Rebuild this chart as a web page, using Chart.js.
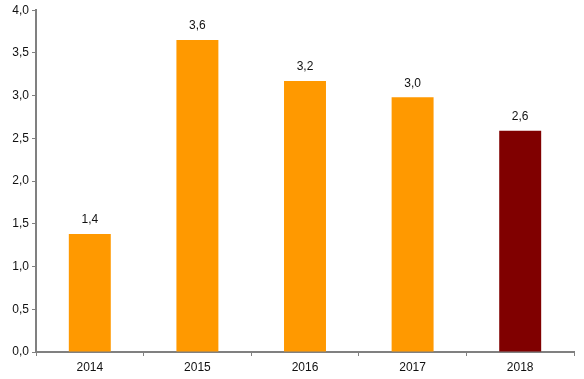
<!DOCTYPE html>
<html>
<head>
<meta charset="utf-8">
<script src="https://cdn.jsdelivr.net/npm/chart.js@4"></script>
<style>
  html, body { margin: 0; padding: 0; background: #fff; }
  #wrap { width: 584px; height: 379px; }
</style>
</head>
<body>
<div id="wrap"><canvas id="grafico"></canvas></div>
<script>
const anos = ["2014", "2015", "2016", "2017", "2018"]
const valores = [1.38, 3.65, 3.17, 2.98, 2.59]
const cores = ["#FF9900", "#FF9900", "#FF9900", "#FF9900", "#800000"]
const yMin = 0
const yMax = 4
const yStep = 0.5

const fmt = v => v.toFixed(1).replace(".", ",")

// rótulos em cima das barras
const rotulos = {
    id: "rotulos",
    afterDatasetsDraw(chart) {
        const ctx = chart.ctx
        const meta = chart.getDatasetMeta(0)
        ctx.save()
        ctx.font = "12px 'Liberation Sans', Arial, sans-serif"
        ctx.fillStyle = "#111"
        ctx.textAlign = "center"
        ctx.textBaseline = "bottom"
        meta.data.forEach((bar, i) => {
            ctx.fillText(fmt(valores[i]), bar.x, bar.y - 8)
        })
        ctx.restore()
    }
}

Chart.defaults.font.family = "'Liberation Sans', Arial, sans-serif"
Chart.defaults.font.size = 12
Chart.defaults.color = "#111"

new Chart(document.getElementById("grafico"), {
    type: "bar",
    data: {
        labels: anos,
        datasets: [{
            data: valores,
            backgroundColor: cores,
            categoryPercentage: 1,
            barPercentage: 0.39
        }]
    },
    options: {
        responsive: true,
        maintainAspectRatio: false,
        animation: false,
        layout: { padding: { top: 10, right: 10, left: 0, bottom: 0 } },
        plugins: {
            legend: { display: false },
            tooltip: { enabled: false }
        },
        scales: {
            x: {
                grid: {
                    display: true,
                    drawOnChartArea: false,
                    drawTicks: true,
                    tickLength: 4,
                    color: "#808080",
                    offset: true
                },
                border: { color: "#808080", width: 2 },
                ticks: { padding: 4 },
                afterFit(scale) { scale.height = 27 }
            },
            y: {
                min: yMin,
                max: yMax,
                grid: {
                    display: true,
                    drawOnChartArea: false,
                    drawTicks: true,
                    tickLength: 4,
                    color: "#808080"
                },
                border: { color: "#808080", width: 2 },
                ticks: {
                    stepSize: yStep,
                    padding: 3,
                    callback: v => fmt(v)
                },
                afterFit(scale) { scale.width = 36 }
            }
        }
    },
    plugins: [rotulos]
})
</script>
</body>
</html>
